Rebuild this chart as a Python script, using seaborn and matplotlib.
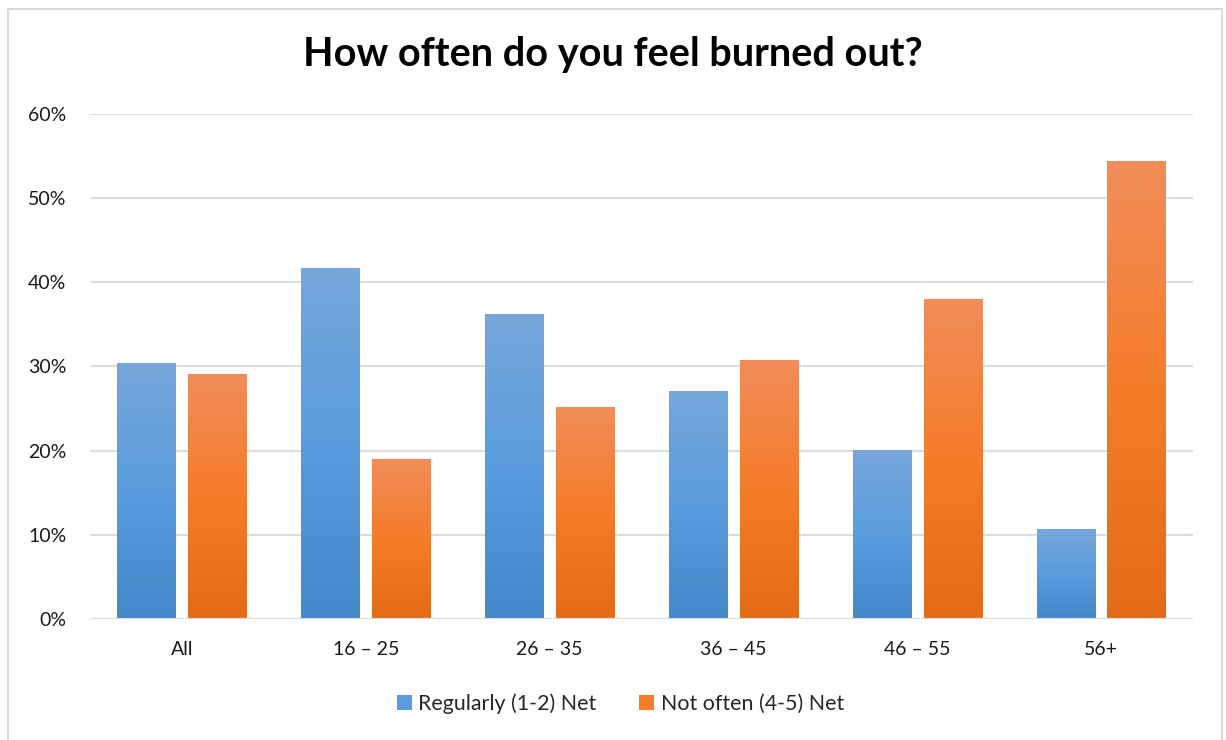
import numpy as np
import pandas as pd
import seaborn as sns
import matplotlib
matplotlib.use('Agg')
from matplotlib import pyplot as plt
from matplotlib.colors import to_rgb
from matplotlib.patches import Rectangle

# values
age_groups = ['All', '16 – 25', '26 – 35', '36 – 45', '46 – 55', '56+']
regularly = [0.303, 0.416, 0.362, 0.270, 0.200, 0.106]
not_often = [0.291, 0.190, 0.251, 0.307, 0.379, 0.544]
series_names = ['Regularly (1-2) Net', 'Not often (4-5) Net']

# gradient stops (top, middle, bottom) for each series
gradients = {
    series_names[0]: ['#76A7DC', '#5A9CDD', '#4388C8'],
    series_names[1]: ['#F18D5A', '#F57C29', '#E46A17'],
}

df = pd.DataFrame({
    'group': age_groups * 2,
    'share': regularly + not_often,
    'series': [series_names[0]] * len(age_groups) + [series_names[1]] * len(age_groups),
})

sns.set_theme(style='white')
plt.rcParams['font.family'] = ['Lato', 'DejaVu Sans']

fig = plt.figure(figsize=(12.26, 7.4), dpi=100)
ax = fig.add_axes([0.0734, 0.1635, 0.8996, 0.6825])

palette = {k: v[1] for k, v in gradients.items()}
sns.barplot(data=df, x='group', y='share', hue='series', hue_order=series_names,
            palette=palette, width=0.77, gap=0.18, ax=ax, legend=False,
            linewidth=0, zorder=2)


def make_grad(stops, n=200):
    c = np.array([to_rgb(s) for s in stops])
    t = np.linspace(0, 1, n)
    out = np.empty((n, 1, 3))
    for k in range(3):
        out[:, 0, k] = np.interp(t, [0, 0.5, 1], c[:, k])
    return out


# paint each bar with its vertical gradient
bars = list(ax.patches)
n = len(age_groups)
for i, p in enumerate(bars):
    name = series_names[i // n]
    x0, y0 = p.get_x(), p.get_y()
    w, h = p.get_width(), p.get_height()
    ax.imshow(make_grad(gradients[name]), extent=[x0, x0 + w, y0, y0 + h],
              origin='upper', aspect='auto', interpolation='bilinear', zorder=3)

ax.set_xlim(-0.5, n - 0.5)
ax.set_ylim(0, 0.6)
ax.set_yticks(np.arange(0, 0.61, 0.1))
ax.set_yticklabels([f'{int(round(v * 100))}%' for v in np.arange(0, 0.61, 0.1)])
ax.yaxis.grid(True, color='#D9DEE4', linewidth=1.6, zorder=0)
ax.set_axisbelow(True)
for s in ax.spines.values():
    s.set_visible(False)
ax.axhline(0, color='#D9DEE4', linewidth=1.6, zorder=4)
ax.tick_params(axis='y', length=0, pad=17, labelsize=14, labelcolor='#1a1a1a')
ax.tick_params(axis='x', length=0, pad=16, labelsize=14, labelcolor='#1a1a1a')
ax.set_xlabel('')
ax.set_ylabel('')

fig.text(0.5, 0.926, 'How often do you feel burned out?', ha='center', va='center',
         fontsize=28.5, fontweight='bold', color='black')

handles = [Rectangle((0, 0), 1, 1, facecolor=gradients[nm][1], edgecolor='none')
           for nm in series_names]
fig.legend(handles, series_names, loc='center', bbox_to_anchor=(0.506, 0.049),
           ncol=2, frameon=False, fontsize=15.4, handlelength=0.7, handleheight=0.7,
           handletextpad=0.3, columnspacing=2.0)

# chart frame like the spreadsheet export
fig.patches.append(Rectangle((8 / 1226, -0.01), 1214 / 1226, 1 - 9 / 740 + 0.01,
                             transform=fig.transFigure, fill=False,
                             edgecolor='#D9D9D9', linewidth=1.5))

fig.savefig('out.png', dpi=100)
